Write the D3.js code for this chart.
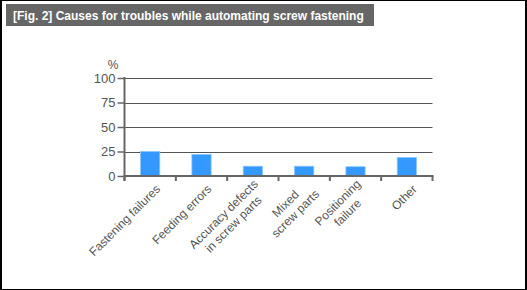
<!DOCTYPE html>
<html>
<head>
<meta charset="utf-8">
<title>Causes for troubles while automating screw fastening</title>
<style>
	body { margin: 0; background: #fff; }
	svg { display: block; }
	text { font-family: "Liberation Sans", Arial, sans-serif; }
</style>
</head>
<body>
<svg width="527" height="290"></svg>
<script src="https://cdnjs.cloudflare.com/ajax/libs/d3/7.8.5/d3.min.js"></script>
<script>
	// data
	let categories = [
		['Fastening failures'],
		['Feeding errors'],
		['Accuracy defects', 'in screw parts'],
		['Mixed', 'screw parts'],
		['Positioning', 'failure'],
		['Other']
	]
	let values = [25, 22, 10, 10, 9.5, 19]
	let yTicks = [0, 25, 50, 75, 100]
	let title = '[Fig. 2] Causes for troubles while automating screw fastening'

	let width = 527
	let height = 290

	let svg = d3.select('svg')

	// frame: black edge, white inside
	svg.append('rect').attr('width', width).attr('height', height).style('fill', '#000')
	svg.append('rect')
		.attr('x', 2).attr('y', 1)
		.attr('width', width - 4).attr('height', height - 2)
		.style('fill', '#fff')

	// title bar
	svg.append('rect')
		.attr('x', 6).attr('y', 4)
		.attr('width', 368).attr('height', 22)
		.style('fill', '#666')
	svg.append('text')
		.attr('x', 13).attr('y', 19.5)
		.style('fill', '#fff')
		.style('font-size', '12px')
		.style('font-weight', 'bold')
		.text(title)

	let x = d3.scaleBand()
		.domain(d3.range(categories.length))
		.range([124.5, 432.5])
		.paddingInner(0)

	let y = d3.scaleLinear()
		.domain([0, 100])
		.range([176, 78])

	let grey = '#555'

	// gridlines
	svg.append('g')
		.selectAll('line')
		.data(yTicks.filter(d => d > 0))
		.join('line')
		.attr('x1', x.range()[0]).attr('x2', x.range()[1])
		.attr('y1', d => Math.round(y(d)) + 0.5)
		.attr('y2', d => Math.round(y(d)) + 0.5)
		.style('stroke', grey)
		.style('stroke-width', 1)

	// bars
	let barW = x.bandwidth() * 0.375
	svg.append('g')
		.selectAll('rect')
		.data(values)
		.join('rect')
		.attr('x', (d, i) => x(i) + (x.bandwidth() - barW) / 2)
		.attr('y', d => y(d))
		.attr('width', barW)
		.attr('height', d => y(0) - y(d))
		.style('fill', '#3399ff')
		.style('stroke', '#8cc6ff')
		.style('stroke-width', 0.8)

	// y axis
	let yAxis = svg.append('g')
		.attr('transform', 'translate(124.5,0)')
		.call(d3.axisLeft(y).tickValues(yTicks).tickSize(7).tickPadding(2))
	yAxis.select('.domain').remove()
	yAxis.selectAll('line').style('stroke', '#666').style('stroke-width', 1.5)
	yAxis.selectAll('text')
		.style('fill', grey)
		.style('font-size', '13px')
		.style('font-family', '"Liberation Sans", Arial, sans-serif')
	svg.append('line')
		.attr('x1', 124.5).attr('x2', 124.5)
		.attr('y1', 77).attr('y2', 181)
		.style('stroke', '#666').style('stroke-width', 2)

	svg.append('text')
		.attr('x', 113).attr('y', 69)
		.attr('text-anchor', 'middle')
		.style('fill', grey)
		.style('font-size', '12px')
		.text('%')

	// x axis line and ticks
	svg.append('line')
		.attr('x1', 123.5).attr('x2', 433.5)
		.attr('y1', 176).attr('y2', 176)
		.style('stroke', '#666').style('stroke-width', 2)
	svg.append('g')
		.selectAll('line')
		.data(d3.range(categories.length + 1))
		.join('line')
		.attr('x1', d => x.range()[0] + d * x.bandwidth())
		.attr('x2', d => x.range()[0] + d * x.bandwidth())
		.attr('y1', 176).attr('y2', 181)
		.style('stroke', '#666').style('stroke-width', 2)

	// rotated category labels, lines centred on each other
	let lh = 14
	let labels = svg.append('g')
		.selectAll('g')
		.data(categories)
		.join('g')
		.attr('transform', (d, i) => `translate(${x(i) + x.bandwidth() / 2 + 8},${187}) rotate(-45)`)

	labels.each(function(lines) {
		let g = d3.select(this)
		let texts = g.selectAll('text')
			.data(lines)
			.join('text')
			.attr('text-anchor', 'middle')
			.attr('dominant-baseline', 'central')
			.attr('y', (d, j) => (j - (lines.length - 1) / 2) * lh)
			.style('fill', grey)
			.style('font-size', '12px')
			.text(d => d)
		let w = d3.max(texts.nodes(), n => n.getComputedTextLength())
		texts.attr('x', -w / 2)
	})
</script>
</body>
</html>
